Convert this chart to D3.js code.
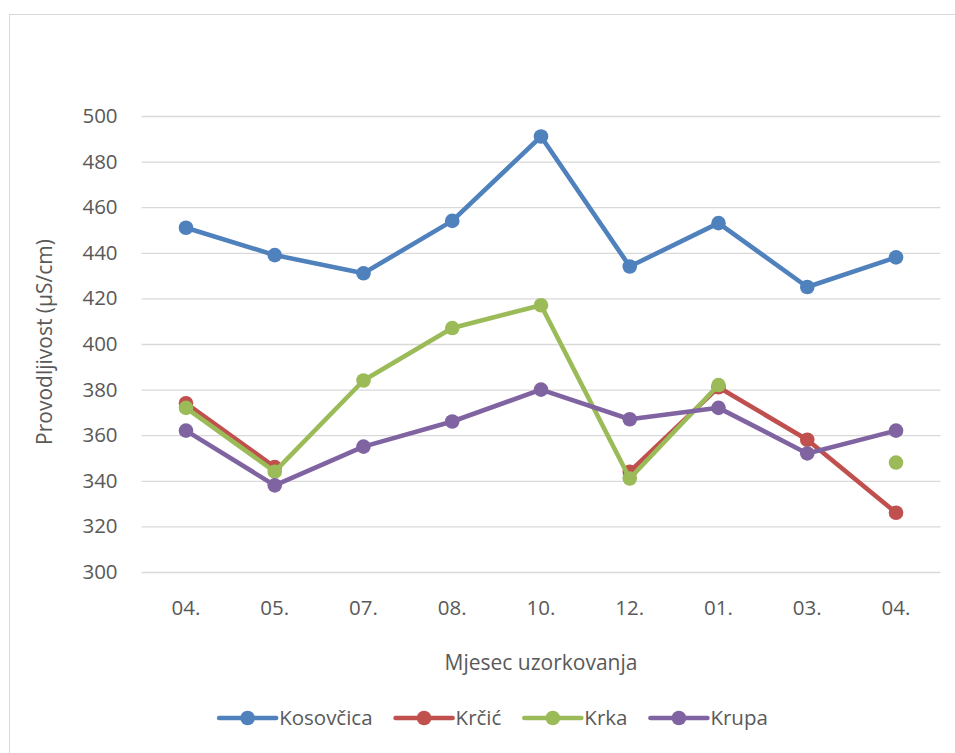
<!DOCTYPE html>
<html>
<head>
<meta charset="utf-8">
<script src="https://cdn.jsdelivr.net/npm/d3@7"></script>
<style>
  html, body { margin: 0; padding: 0; background: #fff; }
  svg { display: block; }
  text { font-family: "Open Sans", "Noto Sans", sans-serif; fill: #595959; }
</style>
</head>
<body>
<svg id="chart" width="955" height="753"></svg>
<script>
// ---- data ----
const categories = ["04.", "05.", "07.", "08.", "10.", "12.", "01.", "03.", "04."];
const seriesNames = ["Kosovčica", "Krčić", "Krka", "Krupa"];
const kosovcica = [451, 439, 431, 454, 491, 434, 453, 425, 438];
const krcic     = [374, 346, null, null, null, 344, 381, 358, 326];
const krka      = [372, 344, 384, 407, 417, 341, 382, null, 348];
const krupa     = [362, 338, 355, 366, 380, 367, 372, 352, 362];
const yTicks = [300, 320, 340, 360, 380, 400, 420, 440, 460, 480, 500];
const colors = ["#4f81bd", "#c0504d", "#9bbb59", "#8064a2"];
const xTitle = "Mjesec uzorkovanja";
const yTitle = "Provodljivost (µS/cm)";

const seriesValues = [kosovcica, krcic, krka, krupa];

const svg = d3.select("#chart");

// chart border
svg.append("rect")
  .attr("x", 9.5).attr("y", 14.5)
  .attr("width", 960).attr("height", 760)
  .attr("fill", "#fff").attr("stroke", "#d9d9d9").attr("stroke-width", 1);

const plot = { left: 141.6, right: 940.4, top: 116, bottom: 572 };

const idx = categories.map((d, i) => i);
const x = d3.scaleBand().domain(idx).range([plot.left, plot.right]);
const y = d3.scaleLinear().domain([300, 500]).range([plot.bottom, plot.top]);
const cx = i => x(i) + x.bandwidth() / 2;

// gridlines + y tick labels via axis
const yAxis = d3.axisLeft(y).tickValues(yTicks).tickSize(-(plot.right - plot.left)).tickPadding(24);
const gy = svg.append("g").attr("transform", `translate(${plot.left},0)`).call(yAxis);
gy.select(".domain").remove();
gy.selectAll(".tick line").attr("stroke", "#d9d9d9").attr("stroke-width", 1.3);
gy.selectAll(".tick text")
  .attr("font-size", 20.5).attr("fill", "#595959")
  .style("font-family", '"Open Sans", sans-serif');

// x axis labels
const xAxis = d3.axisBottom(x).tickFormat(i => categories[i]).tickSize(0).tickPadding(28);
const gx = svg.append("g").attr("transform", `translate(0,${plot.bottom})`).call(xAxis);
gx.select(".domain").remove();
gx.selectAll(".tick text")
  .attr("font-size", 20.5).attr("fill", "#595959")
  .style("font-family", '"Open Sans", sans-serif');

// lines + markers
const line = d3.line()
  .defined(d => d.v !== null)
  .x(d => cx(d.i))
  .y(d => y(d.v));

seriesValues.forEach((vals, s) => {
  const pts = vals.map((v, i) => ({ i, v }));
  svg.append("path")
    .datum(pts)
    .attr("d", line)
    .attr("fill", "none")
    .attr("stroke", colors[s])
    .attr("stroke-width", 4.6)
    .attr("stroke-linejoin", "round")
    .attr("stroke-linecap", "round");
  svg.append("g").selectAll("circle")
    .data(pts.filter(d => d.v !== null))
    .join("circle")
    .attr("cx", d => cx(d.i))
    .attr("cy", d => y(d.v))
    .attr("r", 7.3)
    .attr("fill", colors[s]);
});

// axis titles
svg.append("text")
  .attr("x", (plot.left + plot.right) / 2)
  .attr("y", 670)
  .attr("text-anchor", "middle")
  .attr("font-size", 21)
  .text(xTitle);

svg.append("text")
  .attr("transform", `translate(52,${(plot.top + plot.bottom) / 2 - 2}) rotate(-90)`)
  .attr("text-anchor", "middle")
  .attr("font-size", 21)
  .text(yTitle);

// legend
const legend = svg.append("g");
const lineLen = 57, gapText = 3, gapItem = 23;
let lx = 0;
seriesNames.forEach((name, s) => {
  const g = legend.append("g");
  g.append("line")
    .attr("x1", 0).attr("x2", lineLen)
    .attr("y1", 0).attr("y2", 0)
    .attr("stroke", colors[s]).attr("stroke-width", 4.6).attr("stroke-linecap", "round");
  g.append("circle").attr("cx", lineLen / 2).attr("cy", 0).attr("r", 7.3).attr("fill", colors[s]);
  const t = g.append("text")
    .attr("x", lineLen + gapText).attr("y", 0)
    .attr("dy", "0.35em")
    .attr("font-size", 20.5)
    .text(name);
  const w = t.node().getComputedTextLength();
  g.attr("transform", `translate(${lx},0)`);
  lx += lineLen + gapText + w + gapItem;
});
const totalW = lx - gapItem;
legend.attr("transform", `translate(${493.5 - totalW / 2},718)`);
</script>
</body>
</html>
